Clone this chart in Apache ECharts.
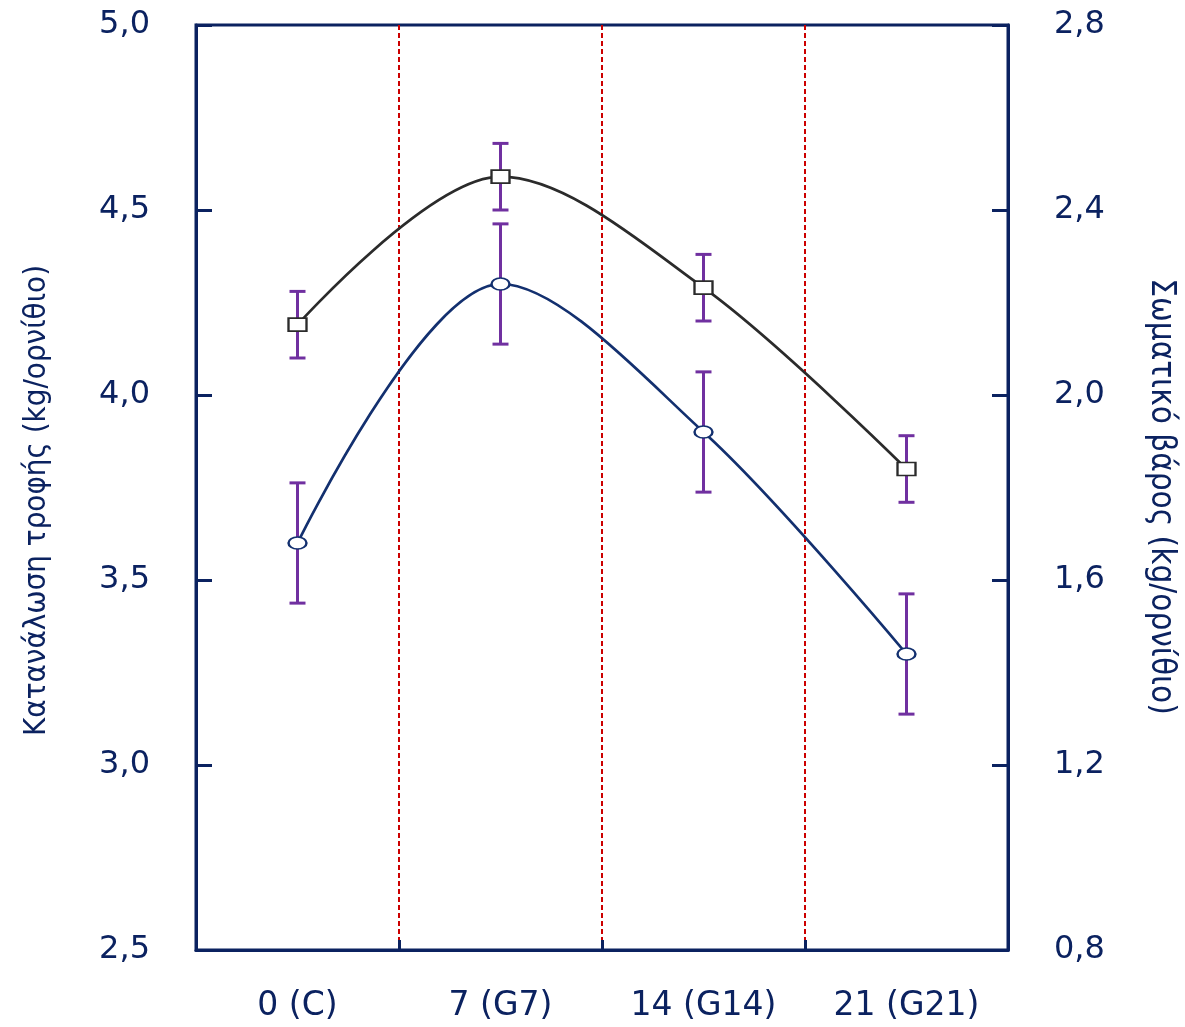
<!DOCTYPE html>
<html>
<head>
<meta charset="utf-8">
<script src="https://cdn.jsdelivr.net/npm/echarts@6/dist/echarts.min.js"></script>
<style>
html,body{margin:0;padding:0;background:#fff;}
#c{width:1185px;height:1027px;}
</style>
</head>
<body>
<div id="c"></div>
<script>
var categories = ['0 (C)', '7 (G7)', '14 (G14)', '21 (G21)'];
var feedIntake = [4.19, 4.59, 4.29, 3.80];
var feedErr = [0.09, 0.09, 0.09, 0.09];
var bodyWeight = [1.68, 2.24, 1.92, 1.44];
var weightErr = [0.13, 0.13, 0.13, 0.13];
var leftTicks = {min: 2.5, max: 5.0, interval: 0.5};
var rightTicks = {min: 0.8, max: 2.8, interval: 0.4};

var NAVY = '#0B2260';
var PURPLE = '#7030A0';

function fmt(v) { return v.toFixed(1).replace('.', ','); }

function errData(vals, errs) {
  return vals.map(function (v, i) { return [i, v - errs[i], v + errs[i]]; });
}

function errRender(params, api) {
  var x = api.value(0);
  var lo = api.coord([x, api.value(1)]);
  var hi = api.coord([x, api.value(2)]);
  var hw = 8;
  var st = {stroke: PURPLE, lineWidth: 3};
  return {
    type: 'group',
    children: [
      {type: 'line', shape: {x1: lo[0], y1: lo[1], x2: hi[0], y2: hi[1]}, style: st},
      {type: 'line', shape: {x1: lo[0] - hw, y1: lo[1], x2: lo[0] + hw, y2: lo[1]}, style: st},
      {type: 'line', shape: {x1: hi[0] - hw, y1: hi[1], x2: hi[0] + hw, y2: hi[1]}, style: st}
    ]
  };
}

var chart = echarts.init(document.getElementById('c'));
var labelFont = {color: NAVY, fontSize: 32, fontFamily: "'DejaVu Sans', Verdana, sans-serif"};
var xLabelFont = {color: NAVY, fontSize: 33, fontFamily: "'DejaVu Sans', Verdana, sans-serif"};
var titleFamily = "'DejaVu Sans Condensed', 'Liberation Sans Narrow', sans-serif";

chart.setOption({
  animation: false,
  backgroundColor: '#fff',
  grid: {left: 196, right: 177, top: 25, bottom: 77, show: true, borderColor: NAVY, borderWidth: 3, backgroundColor: 'transparent'},
  xAxis: {
    type: 'category',
    data: categories,
    boundaryGap: true,
    axisLine: {lineStyle: {color: NAVY, width: 3}},
    axisTick: {show: true, inside: true, length: 10, lineStyle: {color: NAVY, width: 3}},
    axisLabel: Object.assign({margin: 40}, xLabelFont),
    splitLine: {show: true, lineStyle: {color: '#CC0000', width: 2, type: [5, 3]}}
  },
  yAxis: [
    {
      type: 'value', position: 'left',
      min: leftTicks.min, max: leftTicks.max, interval: leftTicks.interval,
      name: 'Κατανάλωση τροφής (kg/ορνίθιο)', nameLocation: 'middle', nameGap: 144, nameRotate: 90,
      nameTextStyle: {color: NAVY, fontSize: 31, fontFamily: titleFamily, padding: [0, 26, 0, 0]},
      axisLine: {show: true, lineStyle: {color: NAVY, width: 3}},
      axisTick: {show: true, inside: true, length: 16, lineStyle: {color: NAVY, width: 3}},
      axisLabel: Object.assign({margin: 46, formatter: fmt}, labelFont),
      splitLine: {show: false}
    },
    {
      type: 'value', position: 'right',
      min: rightTicks.min, max: rightTicks.max, interval: rightTicks.interval,
      name: 'Σωματικό βάρος (kg/ορνίθιο)', nameLocation: 'middle', nameGap: 136, nameRotate: -90,
      nameTextStyle: {color: NAVY, fontSize: 33, fontFamily: titleFamily, padding: [0, 0, 0, 18]},
      axisLine: {show: true, lineStyle: {color: NAVY, width: 3}},
      axisTick: {show: true, inside: true, length: 16, lineStyle: {color: NAVY, width: 3}},
      axisLabel: Object.assign({margin: 46, formatter: fmt}, labelFont),
      splitLine: {show: false}
    }
  ],
  series: [
    {
      type: 'custom', name: 'feedErr', yAxisIndex: 0, z: 1,
      renderItem: errRender, data: errData(feedIntake, feedErr)
    },
    {
      type: 'custom', name: 'weightErr', yAxisIndex: 1, z: 1,
      renderItem: errRender, data: errData(bodyWeight, weightErr)
    },
    {
      type: 'line', name: 'Κατανάλωση τροφής', yAxisIndex: 0, z: 3,
      data: feedIntake, smooth: 0.33,
      symbol: 'rect', symbolSize: [18, 13],
      lineStyle: {color: '#2B2B2B', width: 2.7},
      itemStyle: {color: '#fff', borderColor: '#2B2B2B', borderWidth: 2}
    },
    {
      type: 'line', name: 'Σωματικό βάρος', yAxisIndex: 1, z: 3,
      data: bodyWeight, smooth: 0.33,
      symbol: 'circle', symbolSize: [18, 12],
      lineStyle: {color: '#13306F', width: 2.7},
      itemStyle: {color: '#fff', borderColor: '#13306F', borderWidth: 2}
    }
  ]
});
</script>
</body>
</html>
